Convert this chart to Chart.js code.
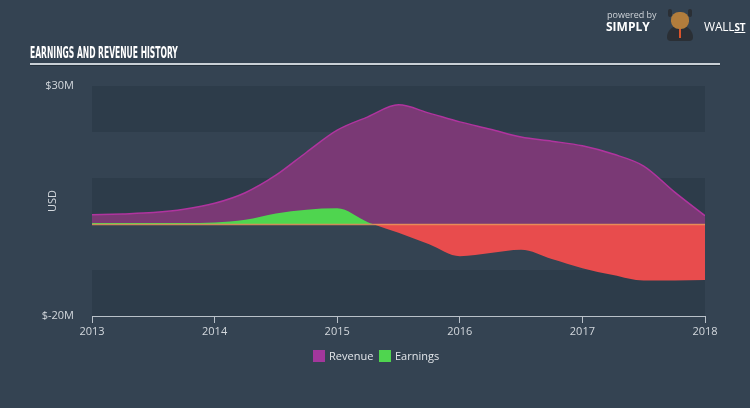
<!DOCTYPE html>
<html>
<head>
<meta charset="utf-8">
<script src="https://cdn.jsdelivr.net/npm/chart.js@4.4.0/dist/chart.umd.min.js"></script>
<style>
  html, body { margin: 0; padding: 0; }
  body { width: 750px; height: 408px; background: #344352; position: relative; overflow: hidden; font-family: "Open Sans", sans-serif; }
  #c { position: absolute; left: 0; top: 0; }
  .title { position: absolute; left: 30px; top: 43px; color: #fff; font-family: "Liberation Sans Narrow", "DejaVu Sans Condensed", sans-serif; font-weight: bold; font-size: 16px; white-space: nowrap; transform-origin: left top; }
  .rule { position: absolute; left: 30px; top: 63px; width: 690px; height: 2px; background: #c9d0d6; border-bottom: 1px solid #23303c; }
  .pb { position: absolute; left: 607px; top: 8px; font-size: 9px; color: #cfd4d9; white-space: nowrap; }
  .simply { position: absolute; left: 606px; top: 18px; font-size: 12px; font-weight: bold; color: #fff; white-space: nowrap; }
  .wall { position: absolute; left: 704px; top: 18px; font-size: 12px; color: #fff; white-space: nowrap; letter-spacing: -0.2px; }
  .wall u { font-size: 10px; font-weight: bold; }
  .bull { position: absolute; left: 660px; top: 9px; width: 40px; height: 32px; }
  .bull .horn { position: absolute; top: 0; width: 4px; height: 8px; background: #2a2f35; border-radius: 3px; }
  .bull .head { position: absolute; left: 11px; top: 3px; width: 18px; height: 17px; border-radius: 45%; background: #b27d3c; }
  .bull .body { position: absolute; left: 7px; top: 17px; width: 26px; height: 15px; border-radius: 12px 12px 4px 4px; background: #2a2f35; }
  .bull .tie { position: absolute; left: 19px; top: 20px; width: 2px; height: 9px; background: #d9542b; }
  .legend { position: absolute; top: 350px; left: 313px; font-size: 11px; color: #e2e6ea; }
  .legend span.box { position: absolute; top: 0; width: 12px; height: 12px; }
  .legend span.lab { position: absolute; top: -2px; white-space: nowrap; }
</style>
</head>
<body>
<canvas id="c" width="750" height="408"></canvas>
<div class="title" id="title">EARNINGS AND REVENUE HISTORY</div>
<div class="rule"></div>
<div class="pb">powered by</div>
<div class="simply">SIMPLY</div>
<div class="bull"><div class="horn" style="left:8px"></div><div class="horn" style="left:28px"></div><div class="body"></div><div class="head"></div><div class="tie"></div></div>
<div class="wall">WALL<u>ST</u></div>
<div class="legend">
  <span class="box" style="left:0;background:#a3379c"></span><span class="lab" style="left:16px">Revenue</span>
  <span class="box" style="left:66px;background:#4fd54f"></span><span class="lab" style="left:82px">Earnings</span>
</div>
<script>
// time points (years), values in $M
var years = [2013, 2013.25, 2013.5, 2013.75, 2014, 2014.25, 2014.5, 2014.75, 2015, 2015.25, 2015.5,
             2015.75, 2016, 2016.25, 2016.5, 2016.75, 2017, 2017.25, 2017.5, 2017.75, 2018];
var revenue = [2.0, 2.2, 2.5, 3.2, 4.5, 6.8, 10.6, 15.6, 20.4, 23.3, 25.9,
               24.1, 22.2, 20.6, 18.9, 18.0, 17.0, 15.2, 12.6, 7.0, 1.8];
var earnings = [0.2, 0.2, 0.2, 0.2, 0.3, 0.9, 2.3, 3.1, 3.4, 0.4, -1.9,
                -4.4, -7.0, -6.3, -5.6, -7.6, -9.6, -11.1, -12.3, -12.3, -12.2];
var yTicks = [30, -20];
var xTicks = [2013, 2014, 2015, 2016, 2017, 2018];

// squeeze the title to the width of the original condensed face
var t = document.getElementById("title");
t.style.transform = "scaleX(" + (148 / t.scrollWidth) + ")";

function pts(vals) {
  var out = [];
  for (var i = 0; i < years.length; i++) {
    out.push({ x: years[i], y: vals[i] });
  }
  return out;
}

var bands = {
  id: "bands",
  beforeDatasetsDraw: function(chart) {
    var ctx = chart.ctx;
    var a = chart.chartArea;
    var y = chart.scales.y;
    ctx.save();
    ctx.fillStyle = "rgba(30,42,54,0.28)";
    for (var v = 30; v > -20; v -= 20) {
      var top = y.getPixelForValue(v);
      var bot = y.getPixelForValue(v - 10);
      ctx.fillRect(a.left, top, a.right - a.left, bot - top);
    }
    ctx.restore();
  },
  afterDatasetsDraw: function(chart) { // zero line
    var ctx = chart.ctx;
    var a = chart.chartArea;
    var z = chart.scales.y.getPixelForValue(0);
    ctx.save();
    ctx.strokeStyle = "rgba(232,150,90,0.85)";
    ctx.lineWidth = 1.5;
    ctx.beginPath();
    ctx.moveTo(a.left, z + 0.5);
    ctx.lineTo(a.right, z + 0.5);
    ctx.stroke();
    ctx.restore();
  }
};

var ctx = document.getElementById("c").getContext("2d");
var chart = new Chart(ctx, {
  type: "line",
  data: {
    datasets: [{
      label: "Revenue",
      data: pts(revenue),
      borderColor: "#b0349f",
      backgroundColor: "#7a3975",
      borderWidth: 1.5,
      fill: "origin",
      pointRadius: 0,
      order: 2,
      cubicInterpolationMode: "monotone"
    }, {
      label: "Earnings",
      data: pts(earnings),
      borderColor: "rgba(0,0,0,0)",
      borderWidth: 0,
      fill: { target: "origin", above: "#4fd54f", below: "#e84c4d" },
      pointRadius: 0,
      order: 1,
      cubicInterpolationMode: "monotone"
    }]
  },
  options: {
    responsive: false,
    animation: false,
    layout: { padding: { top: 86, right: 45, bottom: 62, left: 0 } },
    plugins: { legend: { display: false }, tooltip: { enabled: false } },
    scales: {
      x: {
        type: "linear",
        min: 2013,
        max: 2018,
        afterFit: function(s) { s.height = 30; },
        afterBuildTicks: function(s) { s.ticks = xTicks.map(function(v) { return { value: v }; }); },
        ticks: {
          color: "#d3d8dd",
          font: { family: "Open Sans", size: 11 },
          padding: 2,
          callback: function(v) { return String(v); }
        },
        grid: { drawOnChartArea: false, drawTicks: true, tickLength: 7, color: "#b9c1c9" },
        border: { color: "#b9c1c9", width: 1 }
      },
      y: {
        min: -20,
        max: 30,
        afterFit: function(s) { s.width = 92; },
        afterBuildTicks: function(s) { s.ticks = yTicks.map(function(v) { return { value: v }; }); },
        ticks: {
          color: "#d3d8dd",
          font: { family: "Open Sans", size: 11 },
          padding: 10,
          callback: function(v) { return "$" + v + "M"; }
        },
        grid: { display: false },
        border: { display: false },
        title: {
          display: true,
          text: "USD",
          color: "#d3d8dd",
          font: { family: "Open Sans", size: 11 },
          padding: { top: 46, bottom: 0 }
        }
      }
    }
  },
  plugins: [bands]
});
</script>
</body>
</html>
